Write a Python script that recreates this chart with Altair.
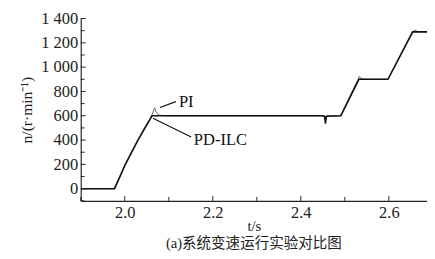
import altair as alt
import pandas as pd

# Series data
pi_t = [1.90, 1.975, 1.99, 2.00, 2.01, 2.02, 2.03, 2.04, 2.05, 2.06, 2.064, 2.068, 2.072, 2.078, 2.09,
        2.30, 2.45, 2.453, 2.456, 2.459, 2.49, 2.53, 2.533, 2.537, 2.545, 2.598, 2.655, 2.66, 2.665, 2.70]
pi_v = [0, 0, 110, 195, 265, 335, 400, 470, 530, 590, 630, 665, 625, 605, 600,
        600, 600, 590, 560, 598, 600, 900, 925, 905, 900, 900, 1290, 1305, 1292, 1292]

ilc_t = [1.90, 1.977, 2.00, 2.03, 2.062, 2.30, 2.45, 2.454, 2.456, 2.458, 2.491, 2.532, 2.598, 2.654, 2.70]
ilc_v = [0, 0, 190, 400, 600, 600, 600, 595, 535, 596, 600, 900, 900, 1290, 1290]

# Axis ticks
x_major = [2.0, 2.2, 2.4, 2.6]
x_minor = [1.9, 2.1, 2.3, 2.5]
y_major = [0, 200, 400, 600, 800, 1000, 1200, 1400]
y_minor = [-100, 100, 300, 500, 700, 900, 1100, 1300]

# Annotations
ann_text = ["PI", "PD-ILC"]
ann_t = [2.123, 2.157]
ann_v = [708, 402]
lead_t1 = [2.080, 2.064]
lead_v1 = [668, 579]
lead_t2 = [2.116, 2.151]
lead_v2 = [716, 426]

XD = [1.9, 2.6867]
YD = [-100, 1400]
SERIF = "Liberation Serif"

df = pd.concat([
    pd.DataFrame({"t": pi_t, "v": pi_v, "s": "PI"}),
    pd.DataFrame({"t": ilc_t, "v": ilc_v, "s": "PD-ILC"}),
])

xs = alt.Scale(domain=XD, nice=False, zero=False)
ys = alt.Scale(domain=YD, nice=False, zero=False)

x_axis = alt.Axis(values=x_major, format=".1f", tickSize=0, labelPadding=4,
                  labelOverlap=False, labelFont=SERIF, labelFontSize=17,
                  title="t/s", titleFont=SERIF, titleFontSize=15, titlePadding=-1, grid=False)
y_axis = alt.Axis(values=y_major, tickSize=0, labelPadding=3, labelOverlap=False,
                  labelExpr="replace(format(datum.value, ','), ',', ' ')",
                  labelFont=SERIF, labelFontSize=17,
                  title="n/(r·min⁻¹)", titleFont=SERIF, titleFontSize=16, titlePadding=6, grid=False)


def X(f):
    return alt.X(f, type="quantitative", scale=xs, axis=x_axis)


def Y(f):
    return alt.Y(f, type="quantitative", scale=ys, axis=y_axis)


base = alt.Chart(df)

pi_line = base.transform_filter(alt.datum.s == "PI").mark_line(
    color="#666", strokeWidth=1, clip=True).encode(x=X("t"), y=Y("v"))
ilc_line = base.transform_filter(alt.datum.s == "PD-ILC").mark_line(
    color="#111", strokeWidth=1.6, clip=True).encode(x=X("t"), y=Y("v"))

xt_major = alt.Chart(pd.DataFrame({"t": x_major})).mark_rule(color="#222", strokeWidth=1).encode(
    x=X("t"), y=alt.value({"expr": "height"}), y2=alt.value({"expr": "height - 5"}))
xt_minor = alt.Chart(pd.DataFrame({"t": x_minor})).mark_rule(color="#222", strokeWidth=1).encode(
    x=X("t"), y=alt.value({"expr": "height"}), y2=alt.value({"expr": "height - 4"}))
yt_major = alt.Chart(pd.DataFrame({"v": y_major})).mark_rule(color="#222", strokeWidth=1).encode(
    y=Y("v"), x=alt.value(0), x2=alt.value(5))
yt_minor = alt.Chart(pd.DataFrame({"v": y_minor})).mark_rule(color="#222", strokeWidth=1).encode(
    y=Y("v"), x=alt.value(0), x2=alt.value(4))

ann_df = pd.DataFrame({"txt": ann_text, "t": ann_t, "v": ann_v,
                       "t1": lead_t1, "v1": lead_v1, "t2": lead_t2, "v2": lead_v2})
leaders = alt.Chart(ann_df).mark_rule(color="#111", strokeWidth=1.2).encode(
    x=X("t1"), y=Y("v1"), x2="t2:Q", y2="v2:Q")
labels = alt.Chart(ann_df).mark_text(align="left", baseline="middle", font=SERIF,
                                     fontSize=17, color="#111").encode(
    x=X("t"), y=Y("v"), text="txt:N")

chart = alt.layer(pi_line, ilc_line, xt_major, xt_minor, yt_major, yt_minor, leaders, labels).properties(
    width=432, height=247,
    autosize=alt.AutoSizeParams(type="fit", contains="padding"),
    padding={"left": 11, "top": -2, "right": 0, "bottom": 0},
    title=alt.TitleParams("(a)系统变速运行实验对比图", orient="bottom",
                          font="Liberation Serif, Noto Sans CJK SC", fontSize=15,
                          fontWeight="normal", color="#222", offset=3, anchor="middle"),
).configure(font=SERIF, background="white").configure_view(stroke=None).configure_axis(
    labelFont=SERIF, labelFontSize=17, labelColor="#222",
    titleFont=SERIF, titleFontSize=15, titleFontWeight="normal", titleColor="#222",
    domainColor="#222", domainWidth=1.2,
).configure_axisX(labelFont=SERIF, titleFont=SERIF).configure_axisY(labelFont=SERIF, titleFont=SERIF)

chart.save("out.html", embed_options={"renderer": "svg", "actions": False})
